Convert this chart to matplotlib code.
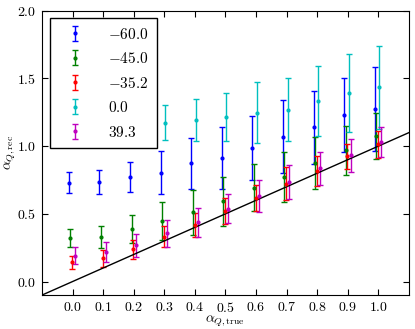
import numpy as np
import matplotlib
matplotlib.use('Agg')
import matplotlib.pyplot as plt

plt.rcParams['mathtext.fontset'] = 'cm'
plt.rcParams['font.family'] = 'serif'
plt.rcParams['font.serif'] = ['cmr10', 'DejaVu Serif']
plt.rcParams['axes.formatter.use_mathtext'] = True

# true values on the x axis
alpha_true = [0.0, 0.1, 0.2, 0.3, 0.4, 0.5, 0.6, 0.7, 0.8, 0.9, 1.0]
alpha_true_c = [0.3, 0.4, 0.5, 0.6, 0.7, 0.8, 0.9, 1.0]

labels = ['-60.0', '-45.0', '-35.2', '0.0', '39.3']
colors = ['b', 'g', 'r', 'c', 'm']
offsets = [-0.012, -0.007, -0.001, 0.003, 0.009]

rec_m60 = [0.73, 0.733, 0.77, 0.805, 0.872, 0.912, 0.983, 1.07, 1.14, 1.23, 1.277]
err_m60 = [0.077, 0.09, 0.11, 0.158, 0.185, 0.23, 0.236, 0.27, 0.27, 0.275, 0.31]

rec_m45 = [0.321, 0.329, 0.388, 0.444, 0.511, 0.593, 0.694, 0.77, 0.874, 0.968, 1.077]
err_m45 = [0.067, 0.08, 0.105, 0.14, 0.165, 0.18, 0.175, 0.185, 0.19, 0.18, 0.17]

rec_m35 = [0.141, 0.173, 0.24, 0.331, 0.42, 0.519, 0.618, 0.724, 0.815, 0.924, 1.013]
err_m35 = [0.048, 0.062, 0.07, 0.078, 0.088, 0.097, 0.097, 0.12, 0.11, 0.093, 0.10]

rec_0 = [1.173, 1.195, 1.215, 1.247, 1.27, 1.331, 1.393, 1.433]
err_0 = [0.13, 0.155, 0.18, 0.227, 0.233, 0.257, 0.29, 0.305]

rec_39 = [0.19, 0.215, 0.267, 0.355, 0.437, 0.539, 0.63, 0.733, 0.835, 0.931, 1.03]
err_39 = [0.062, 0.074, 0.087, 0.1, 0.105, 0.11, 0.12, 0.126, 0.124, 0.12, 0.113]

xticks = [0.0, 0.1, 0.2, 0.3, 0.4, 0.5, 0.6, 0.7, 0.8, 0.9, 1.0]
yticks = [0.0, 0.5, 1.0, 1.5, 2.0]

series = [
    (alpha_true, rec_m60, err_m60),
    (alpha_true, rec_m45, err_m45),
    (alpha_true, rec_m35, err_m35),
    (alpha_true_c, rec_0, err_0),
    (alpha_true, rec_39, err_39),
]

fig = plt.figure(figsize=(4.15, 3.29), dpi=100)
ax = fig.add_axes([0.101, 0.103, 0.8845, 0.8645])

for (x, y, e), lab, col, off in zip(series, labels, colors, offsets):
    ax.errorbar(np.array(x) + off, y, yerr=e, fmt='.', color=col, ms=4,
                elinewidth=1, capsize=2.5, capthick=1, label='$%s$' % lab)

xlim = [-0.1, 1.1]
ax.plot(xlim, xlim, color='k', lw=1)
ax.set_xlim(xlim)
ax.set_ylim(-0.1, 2.0)

ax.set_xticks(xticks)
ax.set_xticklabels(['$%.1f$' % v for v in xticks], fontsize=10)
ax.set_yticks(yticks)
ax.set_yticklabels(['$%.1f$' % v for v in yticks], fontsize=10)
ax.tick_params(direction='in', top=True, right=True, length=4)
ax.tick_params(axis='x', pad=4)
ax.tick_params(axis='y', pad=4.5)

ax.set_xlabel(r'$\alpha_{Q,\mathrm{true}}$', fontsize=10, labelpad=-1)
ax.set_ylabel(r'$\alpha_{Q,\mathrm{rec}}$', fontsize=10, labelpad=-1)

leg = ax.legend(loc='upper left', fontsize=11, numpoints=1, fancybox=False,
                framealpha=1, edgecolor='k', borderpad=0.55, labelspacing=0.62,
                handlelength=2.2, handletextpad=1.1, borderaxespad=0.5)
leg.get_frame().set_linewidth(1)

fig.savefig('out.png', dpi=100)
